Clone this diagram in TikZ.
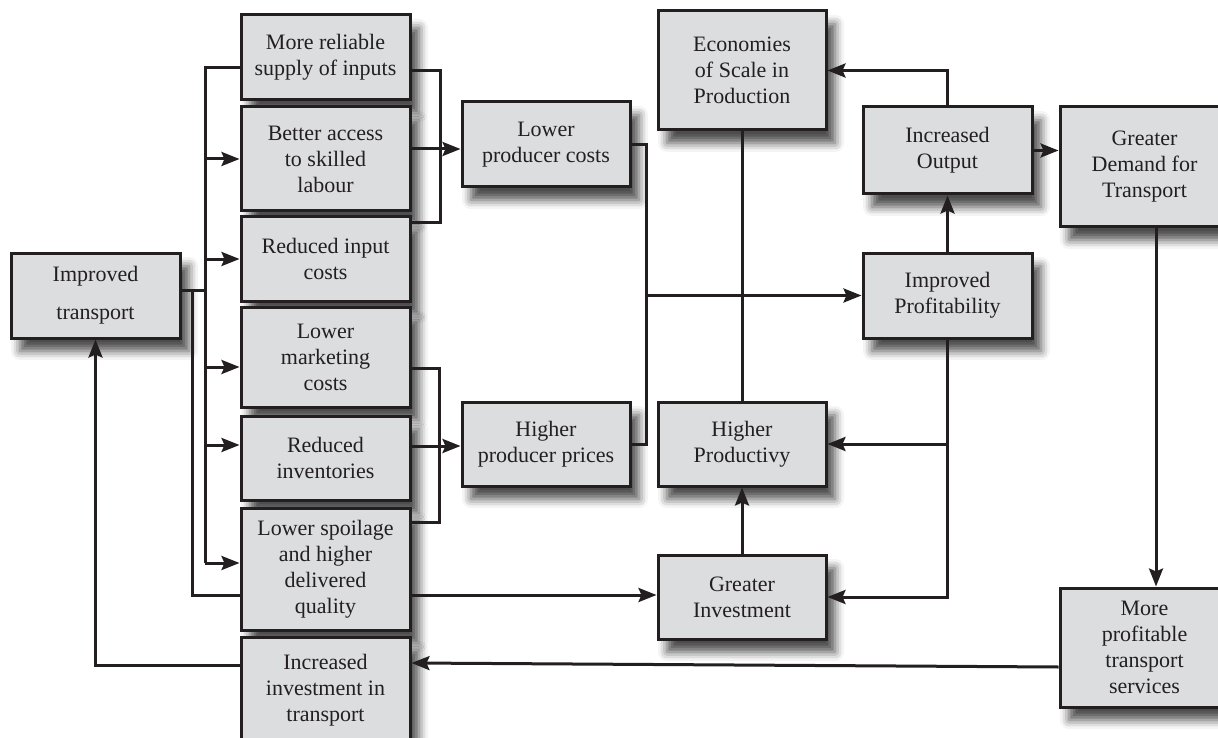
\documentclass[tikz,border=0pt]{standalone}
\usepackage{fontspec}
\setmainfont{Liberation Serif}
\usepackage{xcolor}
\usetikzlibrary{arrows.meta,shadows.blur}

\definecolor{boxgray}{HTML}{DCDDDF}
\definecolor{inkline}{HTML}{231F20}

\tikzset{
	box/.style={draw=inkline, fill=boxgray, line width=3pt, inner sep=0pt, align=center,
		font=\fontsize{22}{26}\selectfont, text=inkline,
		blur shadow={shadow xshift=9pt, shadow yshift=-13pt, shadow blur radius=9pt, shadow opacity=70}},
	conn/.style={draw=inkline, line width=3pt},
	arr/.style={conn, -{Stealth[length=18pt,width=14pt,inset=3pt]}}
}

\begin{document}
\begin{tikzpicture}[x=1pt,y=-1pt]
	\useasboundingbox (0,0) rectangle (1218,738);
	\clip (0,0) rectangle (1218,738);

	% boxes, left column
	\node[box, minimum width=169pt, minimum height=85pt] (trans) at (95.5,295.5) {Improved\\[12pt]transport};
	\node[box, minimum width=169pt, minimum height=85pt] (supply) at (325.5,57.5) {More reliable\\supply of inputs};
	\node[box, minimum width=169pt, minimum height=104pt] (skill) at (325.5,159) {Better access\\to skilled\\labour};
	\node[box, minimum width=169pt, minimum height=84pt] (input) at (325.5,259) {Reduced input\\costs};
	\node[box, minimum width=169pt, minimum height=100pt] (market) at (325.5,357) {Lower\\marketing\\costs};
	\node[box, minimum width=169pt, minimum height=84pt] (invent) at (325.5,458) {Reduced\\inventories};
	\node[box, minimum width=169pt, minimum height=122pt] (spoil) at (325.5,569) {Lower spoilage\\and higher\\delivered\\quality};
	\node[box, minimum width=169pt, minimum height=106pt] (invtr) at (325.5,690) {Increased\\investment in\\transport};

	% middle
	\node[box, minimum width=168pt, minimum height=85pt] (pcost) at (546,144.5) {Lower\\producer costs};
	\node[box, minimum width=168pt, minimum height=84pt] (pprice) at (546,444) {Higher\\producer prices};
	\node[box, minimum width=168pt, minimum height=119pt] (scale) at (742,70.5) {Economies\\of Scale in\\Production};
	\node[box, minimum width=168pt, minimum height=84pt] (prod) at (742,444) {Higher\\Productivy};
	\node[box, minimum width=168pt, minimum height=84pt] (ginv) at (742,597) {Greater\\Investment};

	% right
	\node[box, minimum width=169pt, minimum height=87pt] (output) at (947.5,150.5) {Increased\\Output};
	\node[box, minimum width=169pt, minimum height=85pt] (profit) at (947.5,295.5) {Improved\\Profitability};
	\node[box, minimum width=169pt, minimum height=120pt] (demand) at (1144.5,167) {Greater\\Demand for\\Transport};
	\node[box, minimum width=169pt, minimum height=119pt] (tprofit) at (1144.5,647.5) {More\\profitable\\transport\\services};

	% bus lines and junctions
	\coordinate (bus) at (205,0);
	\coordinate (bus2) at (192,0);
	\coordinate (brA) at (440,0);
	\coordinate (brB) at (439,0);
	\coordinate (brC) at (646,0);
	\coordinate (tout) at ([yshift=5pt]trans.east);
	\coordinate (sup) at ([yshift=-10pt]supply.west);
	\coordinate (mkt) at ([yshift=-10pt]market.west);
	\coordinate (inv) at ([yshift=13pt]invent.west);
	\coordinate (spl) at ([yshift=6pt]spoil.west);
	\coordinate (sin) at ([yshift=-26pt]spoil.west);
	\coordinate (sout) at ([yshift=-26pt]spoil.east);

	% fan out from improved transport
	\draw[conn] (tout) -- (tout -| bus);
	\draw[conn] (sup) -| (spl -| bus);
	\draw[arr] (skill.west -| bus) -- (skill.west);
	\draw[arr] (input.west -| bus) -- (input.west);
	\draw[arr] (mkt -| bus) -- (mkt);
	\draw[arr] (inv -| bus) -- (inv);
	\draw[arr] (spl -| bus) -- (spl);
	\draw[conn] (tout -| bus2) |- (sin);
	\draw[arr] (sout) -- (sout -| ginv.west);

	% brackets into producer boxes
	\coordinate (s1) at ([yshift=-13.5pt]supply.east);
	\coordinate (s2) at ([yshift=36pt]input.east);
	\coordinate (m1) at ([yshift=10pt]skill.east);
	\draw[conn] (s1) -- (s1 -| brA) -- (s2 -| brA) -- (s2);
	\draw[arr] (m1) -- (m1 -| pcost.west);
	\coordinate (t1) at ([yshift=-11pt]market.east);
	\coordinate (t2) at ([yshift=47pt]spoil.east);
	\coordinate (m2) at ([yshift=12pt]invent.east);
	\draw[conn] (t1) -- (t1 -| brB) -- (t2 -| brB) -- (t2);
	\draw[arr] (m2) -- (m2 -| pprice.west);

	% producer costs/prices to profitability
	\draw[conn] (pcost.east) -- (pcost.east -| brC) -- (pprice.east -| brC) -- (pprice.east);
	\draw[arr] (profit.west -| brC) -- (profit.west);
	\draw[conn] (scale.south) -- (prod.north);
	\draw[arr] (ginv.north) -- (prod.south);

	% output and profitability
	\draw[arr] (output.north) |- (scale.east);
	\draw[arr] (output.east) -- (output.east -| demand.west);
	\draw[arr] (profit.north) -- (output.south);
	\draw[conn] (profit.south) -- (prod.east -| profit.south);
	\draw[arr] (prod.east -| profit.south) -- (prod.east);
	\draw[arr] (profit.south) |- (ginv.east);

	% feedback through transport
	\draw[arr] ([xshift=11.5pt]demand.south) -- ([xshift=11.5pt]tprofit.north);
	\draw[arr] ([yshift=-19.5pt]tprofit.west) -- ([yshift=27pt]invtr.east);
	\draw[arr] ([yshift=25pt]invtr.west) -| (trans.south);
\end{tikzpicture}
\end{document}
